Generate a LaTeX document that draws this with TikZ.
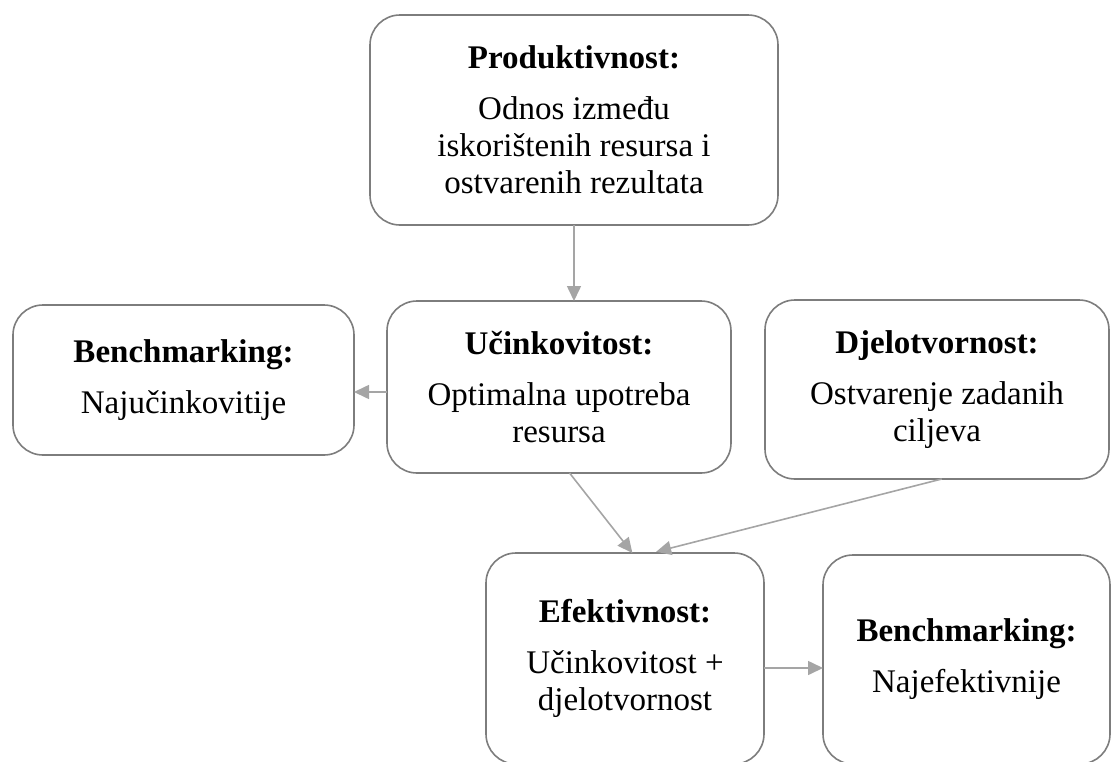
\documentclass[tikz,border=0pt]{standalone}
\usepackage{fontspec}
\setmainfont{Liberation Serif}
\usepackage{tikz}
\usetikzlibrary{arrows.meta}
\definecolor{boxgray}{RGB}{125,125,125}
\definecolor{linkgray}{RGB}{165,165,165}
\tikzset{
    conceptnode/.style = {
        align=center,
        text centered,
        rectangle,
        rounded corners=30pt,
        draw=boxgray,
        line width=1.6pt,
        inner sep=0pt,
        outer sep=0pt,
        font=\fontsize{33}{37}\selectfont
    },
    link/.style = {
        draw=linkgray,
        line width=1.6pt,
        -{Triangle[length=15pt,width=14pt]}
    }
}
\newcommand{\headline}[1]{\textbf{#1}\\[14pt]}

\begin{document}
\begin{tikzpicture}[x=1pt,y=1pt]
            \useasboundingbox (0,0) rectangle (1112,-761);
            \node [conceptnode, minimum width=408pt, minimum height=210pt] (prod) at (574,-120)
                {\headline{Produktivnost:}Odnos između\\iskorištenih resursa i\\ostvarenih rezultata};
            \node [conceptnode, minimum width=344pt, minimum height=172pt] (ucin) at (559,-387)
                {\headline{Učinkovitost:}Optimalna upotreba\\resursa};
            \node [conceptnode, minimum width=341pt, minimum height=150pt] (benchL) at (183.5,-380)
                {\headline{Benchmarking:}Najučinkovitije};
            \node [conceptnode, minimum width=344pt, minimum height=179pt] (djel) at (937,-389.5)
                {\headline{Djelotvornost:}Ostvarenje zadanih\\ciljeva};
            \node [conceptnode, minimum width=278pt, minimum height=211pt] (efek) at (625,-658.5)
                {\headline{Efektivnost:}Učinkovitost +\\djelotvornost};
            \node [conceptnode, minimum width=287pt, minimum height=209pt] (benchR) at (966.5,-659.5)
                {\headline{Benchmarking:}Najefektivnije};
            \draw [link] (prod.south) -- (prod.south |- ucin.north);
            \draw [link] (ucin.west |- 0,-392) -- (benchL.east |- 0,-392);
            \draw [link] (ucin.-83) -- (efek.86);
            \draw [link, shorten >=5pt] (djel.-87) -- (efek.76);
            \draw [link] (efek.east |- 0,-668) -- (benchR.west |- 0,-668);
\end{tikzpicture}
\end{document}
